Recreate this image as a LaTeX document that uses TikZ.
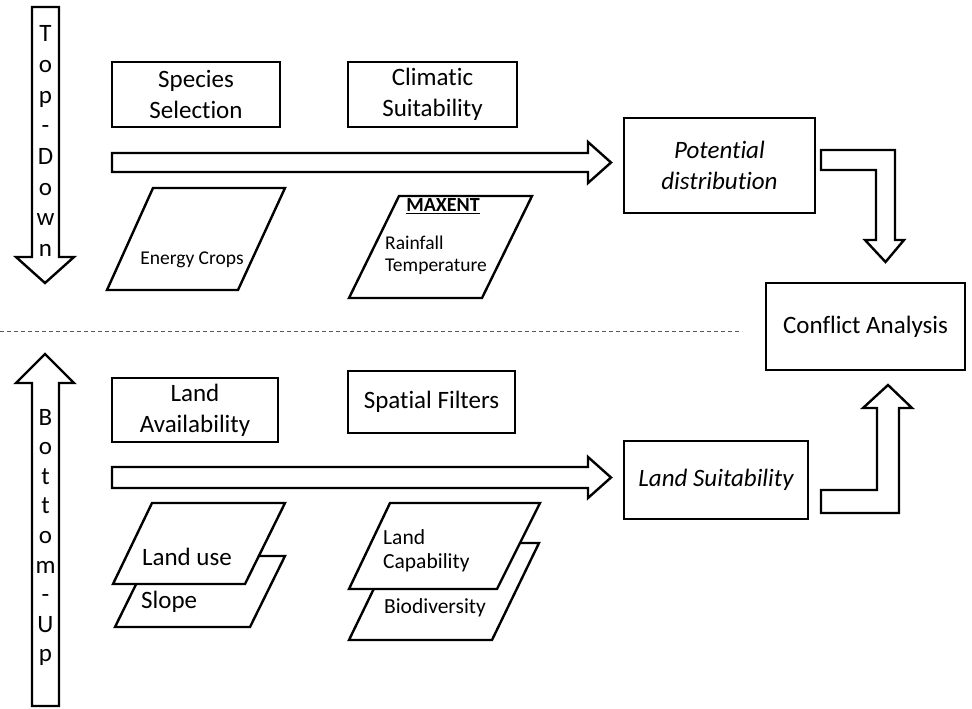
\documentclass[tikz,border=0pt]{standalone}
\usepackage{fontspec}
\setmainfont[Ligatures={NoCommon}, Contextuals={NoAlternate}]{Carlito}
\begin{document}
\begin{tikzpicture}[x=1pt,y=-1pt,
  box/.style={draw=black, line width=2.4pt, fill=white, inner sep=0pt, align=center, font=\fontsize{25}{31}\selectfont},
  outl/.style={draw=black, line width=2.4pt, line join=miter, fill=white},
  small/.style={font=\fontsize{19.5}{23}\selectfont, inner sep=0pt},
  mid/.style={font=\fontsize{21.5}{26}\selectfont, inner sep=0pt},
  big/.style={font=\fontsize{25}{29}\selectfont, inner sep=0pt}]
\useasboundingbox (0,0) rectangle (972,709);

% boxes
\node[box, minimum width=168pt, minimum height=65pt] (ss) at (196,94.5) {Species\\Selection};
\node[box, minimum width=169pt, minimum height=65pt] (cs) at (432.5,94.5) {Climatic\\Suitability};
\node[box, minimum width=191pt, minimum height=95pt, font=\fontsize{25}{31}\selectfont\itshape] (pd) at (719.5,165.5) {Potential\\distribution};
\node[box, minimum width=199pt, minimum height=87pt] (ca) at (865.5,326.5) {Conflict Analysis};
\node[box, minimum width=166pt, minimum height=64pt] (la) at (195,410) {Land\\Availability};
\node[box, minimum width=167pt, minimum height=62pt] (sf) at (431.5,402) {Spatial Filters};
\node[box, minimum width=184pt, minimum height=78pt, font=\fontsize{25}{31}\selectfont\itshape] (ls) at (716,480) {Land Suitability};

% vertical block arrows
\draw[outl] (32,7) -- (59,7) -- (59,257) -- (74,257) -- (45,283) -- (16,257) -- (32,257) -- cycle;
\draw[outl] (45,354) -- (74,383) -- (59,383) -- (59,706) -- (32,706) -- (32,383) -- (16,383) -- cycle;
\foreach \c [count=\i from 0] in {T,o,p,-,D,o,w,n}
  \node[big, anchor=base] (td\i) at (45.5,42+30.6*\i) {\c};
\foreach \c [count=\i from 0] in {B,o,t,t,o,m,-,U,p}
  \node[big, anchor=base] (bu\i) at (45.5,425+29.6*\i) {\c};

% horizontal block arrows
\draw[outl] (112,153) -- (588,153) -- (588,142) -- (611,162.5) -- (588,183) -- (588,172) -- (112,172) -- cycle;
\draw[outl] (112,467) -- (588,467) -- (588,457) -- (611,477.5) -- (588,498) -- (588,488) -- (112,488) -- cycle;

% L-shaped block arrows
\draw[outl] (821,150) -- (895,150) -- (895,240) -- (904,240) -- (885.5,262) -- (865,240) -- (876,240) -- (876,170) -- (821,170) -- cycle;
\draw[outl] (821,513) -- (899,513) -- (899,408) -- (912,408) -- (888,385) -- (863,408) -- (877,408) -- (877,490) -- (821,490) -- cycle;

% dashed separator
\coordinate (dl) at (0,331);
\coordinate (dr) at (742,331);
\draw[line width=1pt, black!65, dash pattern=on 4pt off 3pt] (dl) -- (dr);

% parallelograms: top
\draw[outl] (153,188) -- (285,188) -- (238,290) -- (107,290) -- cycle;
\node[small] (ec) at (192,260) {Energy Crops};
\draw[outl] (399,196) -- (532,196) -- (482,298) -- (349,298) -- cycle;
\node[inner sep=0pt, font=\fontsize{20}{24}\selectfont\bfseries] (mx) at (443,206) {\underline{MAXENT}};
\node[small, anchor=west] (rf) at (385,243) {Rainfall};
\node[small, anchor=west] (tp) at (385,267) {Temperature};

% parallelograms: bottom left
\draw[outl] (150,556) -- (285,556) -- (250,627) -- (115,627) -- cycle;
\draw[outl] (152,503) -- (285,503) -- (245,584) -- (113,584) -- cycle;
\node[big] (lu) at (187,557) {Land use};
\node[big, anchor=west] (sl) at (141,602) {Slope};

% parallelograms: bottom right
\draw[outl] (396,543) -- (539,543) -- (492,640) -- (349,640) -- cycle;
\draw[outl] (390,503) -- (540,503) -- (497,589) -- (349,589) -- cycle;
\node[mid, anchor=west] (lc1) at (383,537) {Land};
\node[mid, anchor=west] (lc2) at (383,563) {Capability};
\node[mid] (bd) at (435,608) {Biodiversity};
\end{tikzpicture}
\end{document}
